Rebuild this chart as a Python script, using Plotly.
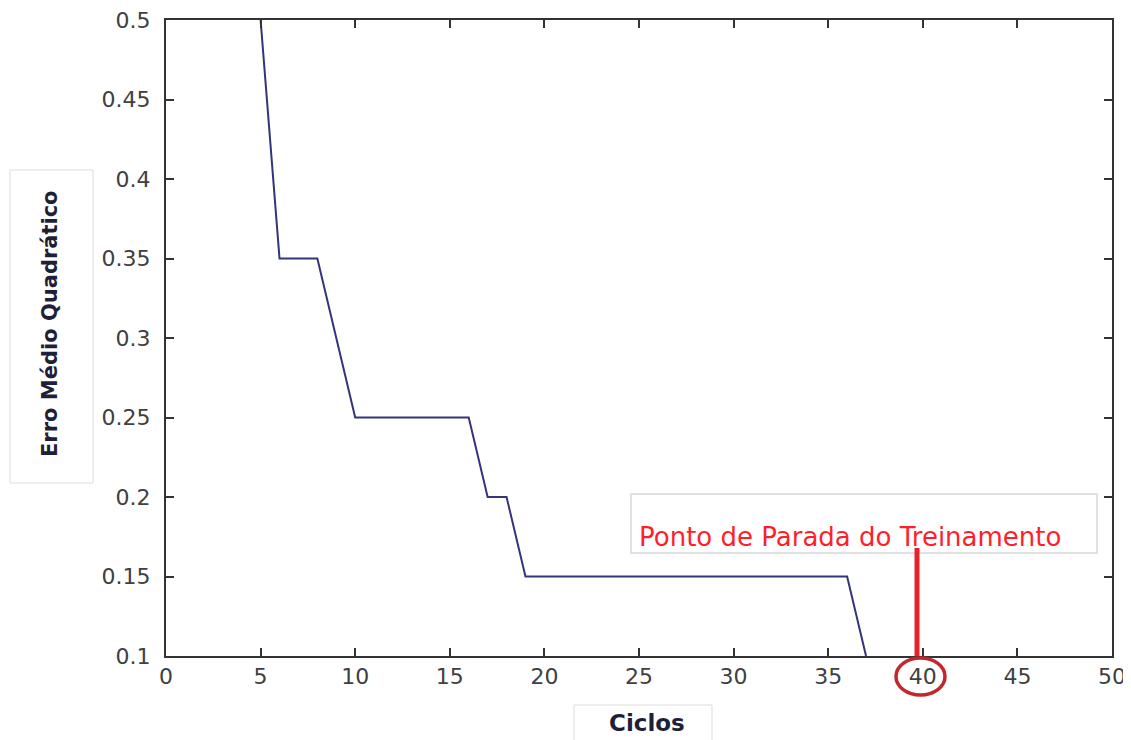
import plotly.graph_objects as go

# Data
ciclos = [5, 6, 8, 10, 16, 17, 18, 19, 36, 37]
erro = [0.5, 0.35, 0.35, 0.25, 0.25, 0.2, 0.2, 0.15, 0.15, 0.1]

x_ticks = [0, 5, 10, 15, 20, 25, 30, 35, 40, 45, 50]
y_ticks = [0.1, 0.15, 0.2, 0.25, 0.3, 0.35, 0.4, 0.45, 0.5]

OFF = 8  # default page body margin
W, H = 1131 - OFF, 740 - OFF
L, T = 166 - OFF, 20 - OFF
PW, PH = 946, 636
R = W - L - PW
B = H - T - PH


def px(x):
    # page pixel x -> paper coordinate
    return (x - OFF - L) / PW


def py(y):
    # page pixel y -> paper coordinate
    return (T + PH - (y - OFF)) / PH


fig = go.Figure()
fig.add_trace(go.Scatter(x=ciclos, y=erro, mode="lines",
                         line=dict(color="#34347a", width=2),
                         showlegend=False))

axis_common = dict(showline=True, linecolor="#333333", linewidth=2,
                   ticks="inside", ticklen=8, tickwidth=2, tickcolor="#333333",
                   mirror="ticks", showgrid=False, zeroline=False, automargin=False,
                   ticklabeloverflow="allow",
                   tickfont=dict(family="DejaVu Sans", size=22, color="#404040"))

fig.update_layout(
    width=W, height=H,
    margin=dict(l=L, r=R, t=T, b=B, autoexpand=False),
    paper_bgcolor="white", plot_bgcolor="white",
    xaxis=dict(range=[0, 50], tickvals=x_ticks, ticktext=[str(v) for v in x_ticks], **axis_common),
    yaxis=dict(range=[0.1, 0.5], tickvals=y_ticks, ticktext=[f"{v:g}" for v in y_ticks],
               ticklabelstandoff=9, **axis_common),
)

shapes = []
# y-title box
shapes.append(dict(type="rect", xref="paper", yref="paper", x0=px(10), x1=px(93), y0=py(483), y1=py(170),
                   line=dict(color="#dddddd", width=1), fillcolor="rgba(0,0,0,0)", layer="below"))
# x-title box
shapes.append(dict(type="rect", xref="paper", yref="paper", x0=px(574), x1=px(712), y0=py(745), y1=py(705),
                   line=dict(color="#dddddd", width=1), fillcolor="rgba(0,0,0,0)", layer="below"))
# annotation box
shapes.append(dict(type="rect", xref="paper", yref="paper", x0=px(631), x1=px(1097), y0=py(553), y1=py(494),
                   line=dict(color="#d8d8d8", width=1.5), fillcolor="white", layer="above"))
# red pointer line
shapes.append(dict(type="line", xref="paper", yref="paper", x0=px(917), x1=px(917), y0=py(548), y1=py(656),
                   line=dict(color="#e8202a", width=5), layer="above"))
# red circle around 40
shapes.append(dict(type="circle", xref="paper", yref="paper", x0=px(896), x1=px(945), y0=py(695), y1=py(658),
                   line=dict(color="#c1272d", width=3.5)))
fig.update_layout(shapes=shapes)

fig.add_annotation(xref="paper", yref="paper", x=px(50), y=py(324), xanchor="center", yanchor="middle",
                   text="<b>Erro Médio Quadrático</b>",
                   textangle=-90, showarrow=False,
                   font=dict(family="DejaVu Sans", size=21, color="#1f1f3a"))
fig.add_annotation(xref="paper", yref="paper", x=px(647), y=py(723), xanchor="center", yanchor="middle",
                   text="<b>Ciclos</b>",
                   showarrow=False, font=dict(family="DejaVu Sans", size=23, color="#1f1f3a"))
fig.add_annotation(xref="paper", yref="paper", x=px(637), y=py(537), xanchor="left", yanchor="middle",
                   text="Ponto de Parada do Treinamento", showarrow=False,
                   font=dict(family="DejaVu Sans", size=26, color="#ff1f2a"))

fig.write_html("out.html")
